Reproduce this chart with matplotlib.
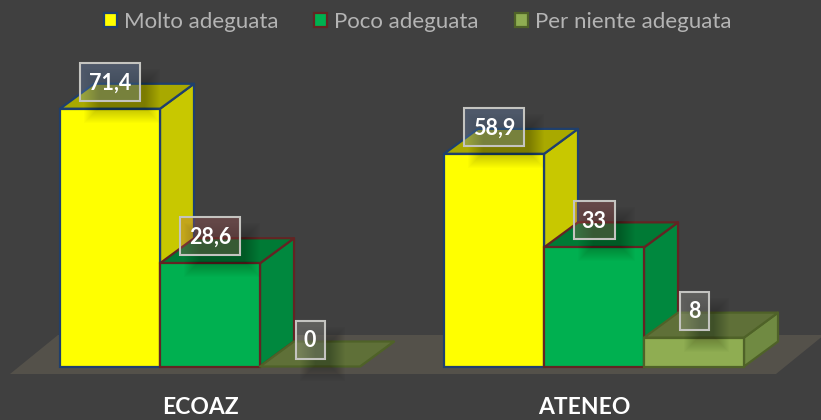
import matplotlib
matplotlib.use("Agg")
import matplotlib.pyplot as plt
from matplotlib.patches import Polygon, Patch, Rectangle

categories = ["ECOAZ", "ATENEO"]
series_names = ["Molto adeguata", "Poco adeguata", "Per niente adeguata"]
molto = [71.4, 58.9]
poco = [28.6, 33]
per_niente = [0, 8]
value_labels = [["71,4", "58,9"], ["28,6", "33"], ["0", "8"]]

BG = "#404040"
FRONT = ["#FFFF00", "#00B050", "#8FAD52"]
SIDE = ["#C8C800", "#00883E", "#708A42"]
TOP = ["#A9A900", "#007A35", "#5F7038"]
EDGE = ["#1F3F6D", "#632423", "#4F6228"]
BOXTINT = ["#6F92C8", "#B85A5A", "#A8A8A0"]

plt.rcParams["font.family"] = ["Lato", "DejaVu Sans"]
W, H = 821, 420
fig = plt.figure(figsize=(W / 100, H / 100), dpi=100, facecolor=BG)
ax = fig.add_axes([0, 0, 1, 1])
PX_X = 384.0   # pixels per category
PX_Y = 3.61    # pixels per value unit
ax.set_xlim(-160 / PX_X, (W - 160) / PX_X)
ax.set_ylim(-(H - 366.5) / PX_Y, 366.5 / PX_Y)
ax.axis("off")
ux, uy = 1 / PX_X, 1 / PX_Y
bw = 100 * ux
dx, dy = 34 * ux, 25 * uy

# floor
ax.add_patch(Polygon([(-150 * ux, -7.5 * uy), (616 * ux, -7.5 * uy),
                      (664 * ux, 31.5 * uy), (-102 * ux, 31.5 * uy)],
                     closed=True, fc="#54514A", ec="none", zorder=1))

series = [molto, poco, per_niente]
z = 2
for g in range(len(categories)):
    for s, vals in enumerate(series):
        v = vals[g]
        x0 = g + (s - 1) * bw
        x1 = x0 + bw
        lw = 1.6
        ax.add_patch(Polygon([(x1, 0), (x1 + dx, dy), (x1 + dx, v + dy), (x1, v)],
                             fc=SIDE[s], ec=EDGE[s], lw=lw, zorder=z, joinstyle="round"))
        ax.add_patch(Polygon([(x0, v), (x1, v), (x1 + dx, v + dy), (x0 + dx, v + dy)],
                             fc=TOP[s], ec=EDGE[s], lw=lw, zorder=z, joinstyle="round"))
        if v > 0:
            ax.add_patch(Rectangle((x0, 0), bw, v, fc=FRONT[s], ec=EDGE[s], lw=lw, zorder=z + 0.1))
        z += 1

# labels with soft shadows
for g in range(len(categories)):
    for s, vals in enumerate(series):
        v = vals[g]
        xc = g + (s - 0.5) * bw
        yc = v + 27 * uy
        txt = value_labels[s][g]
        hw = {4: 30, 2: 20.5, 1: 14.5}[len(txt)] * ux
        hh = 19 * uy
        # shadow
        for i in range(16):
            grow = (15 - i) * 1.0 - 5
            ax.add_patch(Rectangle((xc - hw + (14 - grow) * ux, yc - hh - (12 + grow) * uy),
                                   2 * hw + 2 * grow * ux - 4 * ux, 2 * hh + 2 * grow * uy - 4 * uy,
                                   fc="black", ec="none", alpha=0.014, zorder=20))
        ax.add_patch(Rectangle((xc - hw, yc - hh), 2 * hw, 2 * hh, fc=BOXTINT[s], ec="none",
                               alpha=0.30, zorder=21))
        ax.add_patch(Rectangle((xc - hw, yc - hh), 2 * hw, 2 * hh, fc="none", ec="#C4C4C0",
                               lw=1.5, zorder=22))
        ax.text(xc, yc - 1 * uy, txt, color="white", fontsize=15.5, fontweight="bold",
                ha="center", va="center", zorder=23)

for g, c in enumerate(categories):
    ax.text(g + 40.5 * ux, -(408 - 366.5) * uy, c, color="white", fontsize=16.5,
            fontweight="bold", ha="center", va="center")

handles = [Patch(fc=FRONT[s], ec=EDGE[s], lw=1.6) for s in range(3)]
leg = fig.legend(handles, series_names, ncol=3, loc="center", bbox_to_anchor=(417.5 / W, 1 - 22 / H),
                 frameon=False, fontsize=16, labelcolor="#B4B4B4", handlelength=0.6,
                 handleheight=0.6, handletextpad=0.32, columnspacing=1.6, borderpad=0)
fig.savefig("out.png", dpi=100, facecolor=BG)
